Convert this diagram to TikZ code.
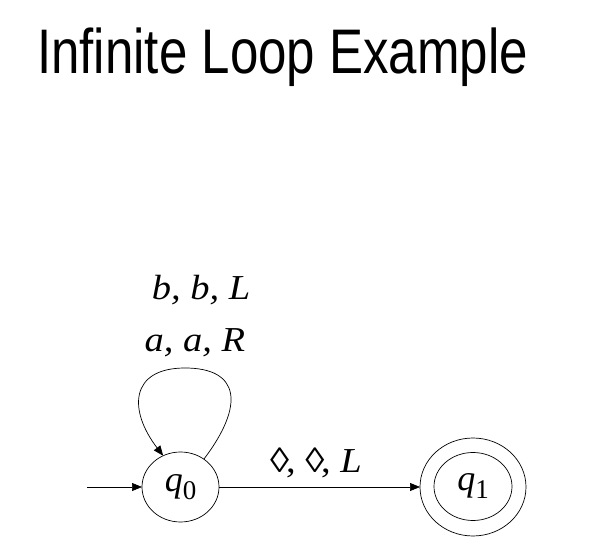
\documentclass[tikz,border=0pt]{standalone}
\usepackage{fontspec}
\setmainfont{Liberation Serif}
\newfontfamily\titlefont{Liberation Sans}
\usetikzlibrary{shapes.geometric,arrows.meta}
\newcommand{\sq}[1]{\scalebox{0.81}[1]{#1}}
\newcommand{\wide}[1]{\scalebox{1.1}[1]{#1}}
\newcommand{\stname}[1]{\textit{q}\raisebox{-8pt}{\fontsize{27}{27}\selectfont #1}}

\begin{document}
\begin{tikzpicture}[x=1pt,y=-1pt,
	state/.style={draw, ellipse, line width=0.7pt, inner sep=0pt, outer sep=0pt, font=\fontsize{36}{36}\selectfont},
	edge/.style={draw, line width=0.7pt, -{Triangle[length=10pt,width=8pt]}},
	lbl/.style={font=\fontsize{35}{35}\selectfont\itshape, inner sep=0pt, anchor=base}]
	\useasboundingbox (0,0) rectangle (611,537);
	\node[anchor=base west, inner sep=0pt, font=\titlefont\fontsize{63}{63}\selectfont] (title) at (37,74) {\sq{Infinite Loop Example}};

	% states
	\node[state, minimum width=77pt, minimum height=70pt] (q0) at (180.5,487) {\stname{0}};
	\node[state, minimum width=78pt, minimum height=68pt] (q1) at (473,486.5) {\stname{1}};
	\node[state, minimum width=106pt, minimum height=98pt] (q1out) at (473,487) {};
	\coordinate (start) at (87,487);

	% transitions
	\draw[edge] (start) -- (q0);
	\draw[edge] (q0) -- (q1out);
	\draw[edge] (q0.50) .. controls (245,405) and (240,368) .. (185,368)
		.. controls (130,368) and (128,410) .. (q0.119);

	\node[lbl] (bbl) at (201,300) {\wide{b, b, L}};
	\node[lbl] (aar) at (195,352) {\wide{a, a, R}};
	\node[lbl] (ddl) at (316,472) {\wide{\upshape ◊\hspace{-0.08em}, ◊\hspace{-0.08em}, \itshape L}};
\end{tikzpicture}
\end{document}
